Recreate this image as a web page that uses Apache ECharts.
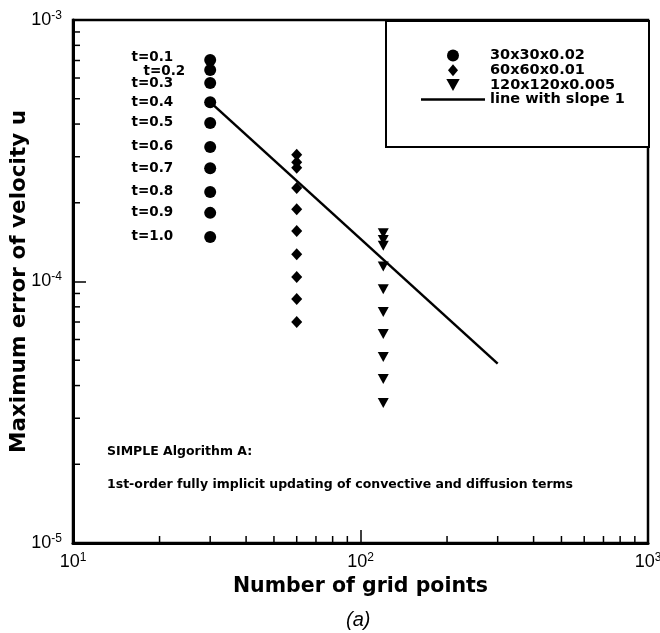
<!DOCTYPE html>
<html>
<head>
<meta charset="utf-8">
<script src="https://cdn.jsdelivr.net/npm/echarts@6/dist/echarts.min.js"></script>
<style>html,body{margin:0;padding:0;background:#fff}#c{width:660px;height:633px}</style>
</head>
<body>
<div id="c"></div>
<script>
// ---- data ----
const seriesNames = ['30x30x0.02', '60x60x0.01', '120x120x0.005', 'line with slope 1'];
const gridPoints = [30, 60, 120];
const circleErr = [7.03e-4, 6.44e-4, 5.74e-4, 4.85e-4, 4.04e-4, 3.27e-4, 2.71e-4, 2.20e-4, 1.83e-4, 1.48e-4];
const diamondErr = [3.05e-4, 2.86e-4, 2.72e-4, 2.28e-4, 1.89e-4, 1.56e-4, 1.27e-4, 1.04e-4, 8.57e-5, 7.00e-5];
const triangleErr = [1.53e-4, 1.44e-4, 1.37e-4, 1.14e-4, 9.35e-5, 7.64e-5, 6.30e-5, 5.14e-5, 4.24e-5, 3.43e-5];
const timeLabels = ['t=0.1', 't=0.2', 't=0.3', 't=0.4', 't=0.5', 't=0.6', 't=0.7', 't=0.8', 't=0.9', 't=1.0'];
const slopeX = [30, 300];
const slopeY = [4.85e-4, 4.85e-5];
const xRange = [10, 1000];
const yRange = [1e-5, 1e-3];
const xMinorTicks = [20, 30, 40, 50, 60, 70, 80, 90, 200, 300, 400, 500, 600, 700, 800, 900];
const yMinorTicks = [2e-5, 3e-5, 4e-5, 5e-5, 6e-5, 7e-5, 8e-5, 9e-5, 2e-4, 3e-4, 4e-4, 5e-4, 6e-4, 7e-4, 8e-4, 9e-4];
const annotation1 = 'SIMPLE Algorithm A:';
const annotation2 = '1st-order fully implicit updating of convective and diffusion terms';
const panelLabel = '(a)';

// ---- chart ----
const BOLD = 'DejaVu Sans';
const chart = echarts.init(document.getElementById('c'), null, {renderer: 'canvas'});

function powLabel(v) {
  const e = Math.round(Math.log10(v));
  return '{b|10}{s|' + e + '}';
}
const richTick = {
  b: {fontFamily: 'Liberation Sans', fontSize: 18, color: '#000'},
  s: {fontFamily: 'Liberation Sans', fontSize: 12, color: '#000', padding: [0, 0, 9, 0]}
};

const circleData = circleErr.map((v, i) => ({
  value: [gridPoints[0], v],
  label: {
    show: true,
    position: 'left',
    distance: i === 1 ? 19 : 31,
    offset: i === 0 ? [0, -3] : (i === 1 ? [0, 2] : [0, 0]),
    formatter: timeLabels[i],
    fontFamily: BOLD, fontWeight: 'bold', fontSize: 13.5, color: '#000'
  }
}));

function minorTickRender(dir) {
  return function (params, api) {
    const p = api.coord([api.value(0), api.value(1)]);
    const len = 7;
    const shape = dir === 'x'
      ? {x1: p[0], y1: p[1], x2: p[0], y2: p[1] - len}
      : {x1: p[0], y1: p[1], x2: p[0] + len, y2: p[1]};
    return {type: 'line', shape: shape, style: {stroke: '#000', lineWidth: 1.5}};
  };
}

const DIAMOND = 'path://M5,0L10,6L5,12L0,6Z';
const TRIANGLE = 'path://M0,0L10,0L5,9Z';

const option = {
  backgroundColor: '#fff',
  animation: false,
  grid: {left: 73, right: 12, top: 20, bottom: 90, containLabel: false, outerBoundsMode: 'none',
    show: true, borderColor: '#000', borderWidth: 2.5, backgroundColor: 'transparent'},
  xAxis: {
    type: 'log', logBase: 10, min: xRange[0], max: xRange[1],
    name: 'Number of grid points', nameLocation: 'middle', nameGap: 23,
    nameTextStyle: {fontFamily: BOLD, fontWeight: 'bold', fontSize: 20.5, color: '#000'},
    axisLine: {show: true, lineStyle: {color: '#000', width: 3}},
    axisTick: {show: true, inside: true, length: 13, lineStyle: {color: '#000', width: 1.5}},
    splitLine: {show: false},
    axisLabel: {show: true, margin: 9, formatter: powLabel, rich: richTick, showMinLabel: true, showMaxLabel: true}
  },
  yAxis: {
    type: 'log', logBase: 10, min: yRange[0], max: yRange[1],
    name: 'Maximum error of velocity u', nameLocation: 'middle', nameGap: 43, nameMoveOverlap: false,
    nameTextStyle: {fontFamily: BOLD, fontWeight: 'bold', fontSize: 21.5, color: '#000'},
    axisLine: {show: true, lineStyle: {color: '#000', width: 3}},
    axisTick: {show: true, inside: true, length: 13, lineStyle: {color: '#000', width: 1.5}},
    splitLine: {show: false},
    axisLabel: {show: true, margin: 11, formatter: powLabel, rich: richTick, showMinLabel: true, showMaxLabel: true}
  },
  legend: {
    orient: 'vertical', left: 416, top: 43,
    itemWidth: 64, itemHeight: 12, itemGap: -0.3,
    symbolKeepAspect: true,
    textStyle: {fontFamily: BOLD, fontWeight: 'bold', fontSize: 14.5, color: '#000'},
    data: [
      {name: seriesNames[0], icon: 'circle'},
      {name: seriesNames[1], icon: DIAMOND},
      {name: seriesNames[2], icon: TRIANGLE},
      {name: seriesNames[3], icon: 'path://M0,0L64,0L64,2.5L0,2.5Z'}
    ]
  },
  graphic: [
    {type: 'rect', left: 385, top: 20, z: 0, shape: {width: 263, height: 126}, style: {fill: '#fff', stroke: '#000', lineWidth: 2}},
    {type: 'text', left: 107, top: 445, style: {text: annotation1, font: 'bold 12.5px "DejaVu Sans"', fill: '#000'}},
    {type: 'text', left: 107, top: 478, style: {text: annotation2, font: 'bold 12.5px "DejaVu Sans"', fill: '#000'}},
    {type: 'text', left: 346, top: 610, style: {text: panelLabel, font: 'italic 20px "Liberation Sans"', fill: '#000'}}
  ],
  series: [
    {
      name: seriesNames[0], type: 'scatter', symbol: 'circle', symbolSize: 12,
      itemStyle: {color: '#000', opacity: 1}, data: circleData, z: 3
    },
    {
      name: seriesNames[1], type: 'scatter', symbol: DIAMOND, symbolSize: [11, 12],
      itemStyle: {color: '#000', opacity: 1}, data: diamondErr.map(v => [gridPoints[1], v]), z: 3
    },
    {
      name: seriesNames[2], type: 'scatter', symbol: TRIANGLE, symbolSize: [11, 10],
      itemStyle: {color: '#000', opacity: 1}, data: triangleErr.map(v => [gridPoints[2], v]), z: 3
    },
    {
      name: seriesNames[3], type: 'line', symbol: 'none', showSymbol: false,
      lineStyle: {color: '#000', width: 2.5}, itemStyle: {color: '#000'},
      data: slopeX.map((x, i) => [x, slopeY[i]]), z: 4
    },
    {
      type: 'custom', silent: true, clip: false, renderItem: minorTickRender('x'),
      data: xMinorTicks.map(v => [v, yRange[0]]), z: 5
    },
    {
      type: 'custom', silent: true, clip: false, renderItem: minorTickRender('y'),
      data: yMinorTicks.map(v => [xRange[0], v]), z: 5
    }
  ]
};
chart.setOption(option);
</script>
</body>
</html>
